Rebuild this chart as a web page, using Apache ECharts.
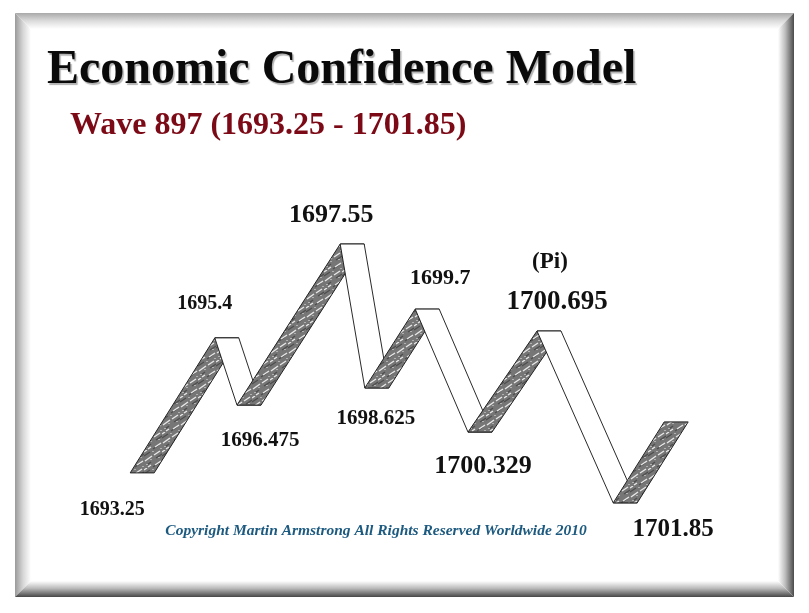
<!DOCTYPE html>
<html><head><meta charset="utf-8">
<script src="https://cdn.jsdelivr.net/npm/echarts@6/dist/echarts.min.js"></script>
<style>html,body{margin:0;padding:0;background:#fff}#c{width:809px;height:613px}</style>
</head><body><div id="c"></div>
<script>
// ---- data (turning points of the wave) ----
const turnX      = [1.7, 15.8, 19.5, 36.7, 40.8, 49.2, 58.0, 69.5, 82.2, 90.7];
const turnLevel  = [15.7, 60.7, 38.3, 92.0, 44.0, 70.3, 29.3, 63.0, 5.7, 32.7];
const turnLabels = ['1693.25','1695.4','1696.475','1697.55','1698.625','1699.7','1700.329','1700.695','1701.85',''];
const piIndex = 7;
const piLabel = '(Pi)';
const titleText = 'Economic Confidence Model';
const subtitleText = 'Wave 897 (1693.25 - 1701.85)';
const copyrightText = 'Copyright Martin Armstrong All Rights Reserved Worldwide 2010';

// ---- layout / style ----
const labelDx   = [-18, -10, 23, -9, 11, 25, 15, 20, 60, 0];
const labelDy   = [37, -34, 35, -29, 31, -31, 34, -29, 27, 0];
const labelSize = [20, 20, 21, 26, 21, 22, 26, 27, 25, 0];
const piDx = 13, piDy = -69, piSize = 23;
const ribbonWidth = 4; // in x-axis units

// hatched gray pattern for rising legs
const pc = document.createElement('canvas'); pc.width = 18; pc.height = 18;
const g = pc.getContext('2d');
g.fillStyle = '#767676'; g.fillRect(0, 0, 18, 18);
g.strokeStyle = '#4e4e4e'; g.lineWidth = 1.2;
[[0,6,6,2],[9,17,15,13],[12,8,18,4],[3,15,7,12]].forEach(s=>{g.beginPath();g.moveTo(s[0],s[1]);g.lineTo(s[2],s[3]);g.stroke();});
g.strokeStyle = '#e8e8e8'; g.lineWidth = 1.4;
[[1,11,8,6],[10,5,16,1],[11,15,17,11],[4,17,7,15],[0,2,3,0]].forEach(s=>{g.beginPath();g.moveTo(s[0],s[1]);g.lineTo(s[2],s[3]);g.stroke();});
g.fillStyle = '#b0b0b0';
[[6,9],[14,7],[2,14],[16,16],[8,1]].forEach(p=>g.fillRect(p[0],p[1],2,1));
const pattern = { image: pc, repeat: 'repeat' };

const legs = [];
for (let i = 0; i < turnX.length - 1; i++) {
  legs.push([turnX[i], turnLevel[i], turnX[i+1], turnLevel[i+1], i]);
}
const labelData = turnX.map((x, i) => [x, turnLevel[i], i]);

const chart = echarts.init(document.getElementById('c'), null, {renderer: 'canvas'});

function bevel() {
  const L = 15, T = 13, R = 794, B = 597, w = 16;
  return [
    {type:'rect', shape:{x:L,y:T,width:R-L,height:B-T}, style:{fill:'#fff'}, z:0},
    {type:'polygon', shape:{points:[[L,T],[R,T],[R-w,T+w],[L+w,T+w]]},
     style:{fill:new echarts.graphic.LinearGradient(0,0,0,1,[{offset:0,color:'#a9a9a9'},{offset:0.5,color:'#dcdcdc'},{offset:1,color:'#ffffff'}])}, z:1},
    {type:'polygon', shape:{points:[[L,T],[L+w,T+w],[L+w,B-w],[L,B]]},
     style:{fill:new echarts.graphic.LinearGradient(0,0,1,0,[{offset:0,color:'#9a9a9a'},{offset:0.5,color:'#d6d6d6'},{offset:1,color:'#ffffff'}])}, z:1},
    {type:'polygon', shape:{points:[[R,T],[R,B],[R-w,B-w],[R-w,T+w]]},
     style:{fill:new echarts.graphic.LinearGradient(0,0,1,0,[{offset:0,color:'#ffffff'},{offset:0.45,color:'#bdbdbd'},{offset:1,color:'#4a4a4a'}])}, z:1},
    {type:'polygon', shape:{points:[[L,B],[L+w,B-w],[R-w,B-w],[R,B]]},
     style:{fill:new echarts.graphic.LinearGradient(0,0,0,1,[{offset:0,color:'#ffffff'},{offset:0.45,color:'#bcbcbc'},{offset:1,color:'#474747'}])}, z:1},
    {type:'text', x:47, y:71, style:{text:titleText, font:'bold 48px "Liberation Serif"', fill:'#0a0a0a', verticalAlign:'middle', textShadowColor:'rgba(0,0,0,0.3)', textShadowOffsetX:1.5, textShadowOffsetY:1.5, textShadowBlur:1}, z:5},
    {type:'text', x:70, y:126, style:{text:subtitleText, font:'bold 32px "Liberation Serif"', fill:'#7c0a16', verticalAlign:'middle', textShadowColor:'#1a1a1a', textShadowOffsetX:2, textShadowOffsetY:1.5, textShadowBlur:0}, z:5},
    {type:'text', x:376, y:531, style:{text:copyrightText, font:'italic bold 15.5px "Liberation Serif"', fill:'#1d5a80', align:'center', verticalAlign:'middle'}, z:5}
  ];
}

chart.setOption({
  animation: false,
  backgroundColor: '#ffffff',
  graphic: bevel(),
  grid: {left: 120, top: 220, width: 600, height: 300},
  xAxis: {type: 'value', min: 0, max: 100, show: false},
  yAxis: {type: 'value', min: 0, max: 100, show: false},
  series: [
    {
      type: 'custom', z: 3,
      data: legs,
      encode: {x: [0, 2], y: [1, 3]},
      renderItem: function (params, api) {
        const a = api.coord([api.value(0), api.value(1)]);
        const b = api.coord([api.value(2), api.value(3)]);
        const w = api.size([ribbonWidth, 0])[0];
        const up = api.value(3) > api.value(1);
        return {
          type: 'polygon',
          shape: {points: [a, [a[0] + w, a[1]], [b[0] + w, b[1]], b]},
          style: {fill: up ? pattern : '#ffffff', stroke: up ? '#222222' : '#111111', lineWidth: up ? 1 : 0.9}
        };
      }
    },
    {
      type: 'custom', z: 4,
      data: labelData,
      encode: {x: 0, y: 1},
      renderItem: function (params, api) {
        const i = api.value(2);
        const p = api.coord([api.value(0), api.value(1)]);
        const children = [];
        if (turnLabels[i]) {
          children.push({type: 'text', x: p[0] + labelDx[i], y: p[1] + labelDy[i],
            style: {text: turnLabels[i], font: 'bold ' + labelSize[i] + 'px "Liberation Serif"', fill: '#111', align: 'center', verticalAlign: 'middle'}});
        }
        if (i === piIndex) {
          children.push({type: 'text', x: p[0] + piDx, y: p[1] + piDy,
            style: {text: piLabel, font: 'bold ' + piSize + 'px "Liberation Serif"', fill: '#111', align: 'center', verticalAlign: 'middle'}});
        }
        return {type: 'group', children: children};
      }
    }
  ]
});
</script></body></html>
